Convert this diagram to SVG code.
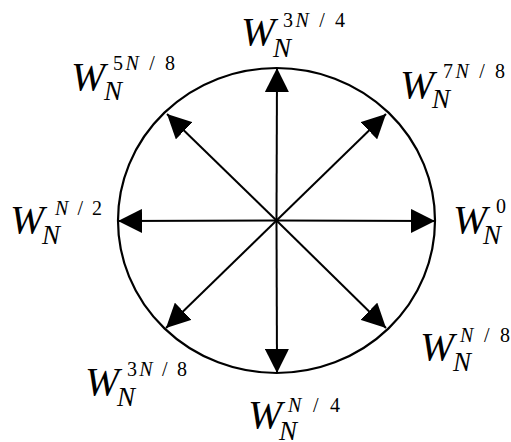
<svg xmlns="http://www.w3.org/2000/svg" width="511" height="442" viewBox="0 0 511 442">
<style>
text{font-family:'Liberation Serif',Times,serif;fill:#000}
.w{font-style:italic;font-size:41px}
.n{font-style:italic;font-size:27px}
.s{font-size:20px}
.i{font-style:italic}
.ax{stroke:#000;stroke-width:2;fill:none;marker-end:url(#ah)}
</style>
<defs>
<marker id="ah" viewBox="0 0 24 24" refX="24" refY="12" markerWidth="24" markerHeight="24" markerUnits="userSpaceOnUse" orient="auto">
<path d="M0,0 L24,12 L0,24 z" fill="#000"/>
</marker>
</defs>
<rect width="511" height="442" fill="#fff"/>
<g id="circle">
<ellipse cx="276.5" cy="220.5" rx="158.5" ry="152.5" fill="none" stroke="#000" stroke-width="2.2"/>
</g>
<g id="connectors">
<line class="ax" x1="276.5" y1="220.5" x2="277" y2="68"/>
<line class="ax" x1="276.5" y1="220.5" x2="277" y2="373"/>
<line class="ax" x1="276.5" y1="220.5" x2="118" y2="221"/>
<line class="ax" x1="276.5" y1="220.5" x2="435" y2="221"/>
<line class="ax" x1="276.5" y1="220.5" x2="386" y2="114"/>
<line class="ax" x1="276.5" y1="220.5" x2="167" y2="114"/>
<line class="ax" x1="276.5" y1="220.5" x2="386" y2="328"/>
<line class="ax" x1="276.5" y1="220.5" x2="166" y2="328"/>
</g>
<g id="label-3N4">
<text class="w" x="241" y="45">W</text>
<text class="n" x="273" y="57">N</text>
<text class="s" x="283" y="27" textLength="62" lengthAdjust="spacing">3<tspan class="i">N</tspan> / 4</text>
</g>
<g id="label-N2">
<text class="w" x="10" y="233">W</text>
<text class="n" x="42" y="244">N</text>
<text class="s" x="55" y="215" textLength="47" lengthAdjust="spacing"><tspan class="i">N</tspan> / 2</text>
</g>
<g id="label-0">
<text class="w" x="453" y="233">W</text>
<text class="n" x="483" y="244">N</text>
<text class="s" x="496" y="213">0</text>
</g>
<g id="label-N8">
<text class="w" x="420" y="360">W</text>
<text class="n" x="453" y="371">N</text>
<text class="s" x="460" y="342" textLength="50" lengthAdjust="spacing"><tspan class="i">N</tspan> / 8</text>
</g>
<g id="label-N4">
<text class="w" x="248" y="428">W</text>
<text class="n" x="279" y="440">N</text>
<text class="s" x="288" y="412" textLength="52" lengthAdjust="spacing"><tspan class="i">N</tspan> / 4</text>
</g>
<g id="label-3N8">
<text class="w" x="85" y="395">W</text>
<text class="n" x="117" y="406">N</text>
<text class="s" x="127" y="376" textLength="60" lengthAdjust="spacing">3<tspan class="i">N</tspan> / 8</text>
</g>
<g id="label-5N8">
<text class="w" x="71" y="90">W</text>
<text class="n" x="104" y="100">N</text>
<text class="s" x="113" y="70" textLength="62" lengthAdjust="spacing">5<tspan class="i">N</tspan> / 8</text>
</g>
<g id="label-7N8">
<text class="w" x="400" y="98">W</text>
<text class="n" x="432" y="108">N</text>
<text class="s" x="443" y="78" textLength="62" lengthAdjust="spacing">7<tspan class="i">N</tspan> / 8</text>
</g>
</svg>
